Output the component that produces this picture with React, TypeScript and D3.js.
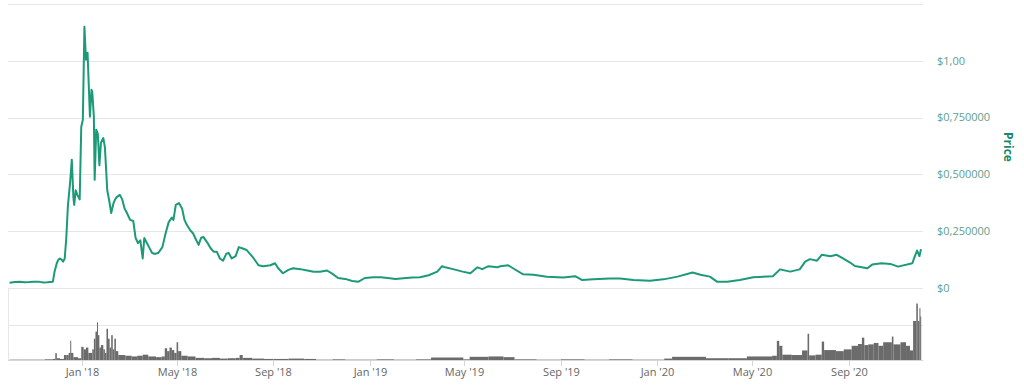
import * as d3 from "d3";

// price in USD
const priceSeries: [string, number][] = [
  ["2017-10-01", 0.023], ["2017-10-08", 0.026], ["2017-10-14", 0.027], ["2017-10-20", 0.025],
  ["2017-10-26", 0.026], ["2017-11-01", 0.028], ["2017-11-08", 0.027], ["2017-11-13", 0.024],
  ["2017-11-18", 0.025], ["2017-11-25", 0.028], ["2017-11-27", 0.07], ["2017-11-30", 0.11],
  ["2017-12-02", 0.125], ["2017-12-04", 0.13], ["2017-12-06", 0.125], ["2017-12-08", 0.116],
  ["2017-12-10", 0.13], ["2017-12-12", 0.22], ["2017-12-14", 0.36], ["2017-12-17", 0.47],
  ["2017-12-19", 0.565], ["2017-12-21", 0.4], ["2017-12-22", 0.366], ["2017-12-24", 0.43],
  ["2017-12-26", 0.41], ["2017-12-29", 0.39], ["2017-12-31", 0.71], ["2018-01-02", 0.74],
  ["2018-01-04", 1.15], ["2018-01-06", 1.005], ["2018-01-08", 1.035], ["2018-01-11", 0.754],
  ["2018-01-13", 0.873], ["2018-01-14", 0.86], ["2018-01-16", 0.754], ["2018-01-17", 0.476],
  ["2018-01-19", 0.697], ["2018-01-21", 0.68], ["2018-01-23", 0.54], ["2018-01-25", 0.64],
  ["2018-01-28", 0.66], ["2018-01-30", 0.62], ["2018-02-02", 0.43], ["2018-02-05", 0.374],
  ["2018-02-07", 0.33], ["2018-02-10", 0.374], ["2018-02-12", 0.39], ["2018-02-14", 0.4],
  ["2018-02-18", 0.41], ["2018-02-21", 0.39], ["2018-02-24", 0.35], ["2018-02-27", 0.33],
  ["2018-03-03", 0.3], ["2018-03-07", 0.295], ["2018-03-10", 0.22], ["2018-03-13", 0.198],
  ["2018-03-16", 0.21], ["2018-03-19", 0.13], ["2018-03-21", 0.22], ["2018-03-24", 0.2],
  ["2018-03-27", 0.18], ["2018-03-31", 0.154], ["2018-04-04", 0.15], ["2018-04-08", 0.155],
  ["2018-04-13", 0.18], ["2018-04-17", 0.24], ["2018-04-21", 0.29], ["2018-04-25", 0.31],
  ["2018-04-27", 0.3], ["2018-04-30", 0.366], ["2018-05-04", 0.374], ["2018-05-08", 0.35],
  ["2018-05-11", 0.3], ["2018-05-14", 0.278], ["2018-05-18", 0.256], ["2018-05-22", 0.24],
  ["2018-05-26", 0.21], ["2018-05-29", 0.19], ["2018-06-01", 0.22], ["2018-06-04", 0.225],
  ["2018-06-09", 0.2], ["2018-06-13", 0.176], ["2018-06-17", 0.16], ["2018-06-21", 0.16],
  ["2018-06-25", 0.13], ["2018-06-29", 0.12], ["2018-07-03", 0.15], ["2018-07-06", 0.155],
  ["2018-07-10", 0.13], ["2018-07-15", 0.14], ["2018-07-19", 0.18], ["2018-07-23", 0.175],
  ["2018-07-29", 0.167], ["2018-08-03", 0.147], ["2018-08-07", 0.13], ["2018-08-13", 0.1],
  ["2018-08-19", 0.096], ["2018-08-28", 0.1], ["2018-09-03", 0.109], ["2018-09-07", 0.087],
  ["2018-09-13", 0.065], ["2018-09-20", 0.08], ["2018-09-26", 0.087], ["2018-10-05", 0.083],
  ["2018-10-14", 0.077], ["2018-10-22", 0.072], ["2018-10-30", 0.072], ["2018-11-08", 0.077],
  ["2018-11-15", 0.062], ["2018-11-22", 0.044], ["2018-12-01", 0.04], ["2018-12-10", 0.031],
  ["2018-12-18", 0.028], ["2018-12-26", 0.044], ["2019-01-06", 0.047], ["2019-01-15", 0.047],
  ["2019-01-24", 0.044], ["2019-02-03", 0.04], ["2019-02-13", 0.043], ["2019-02-24", 0.046],
  ["2019-03-06", 0.047], ["2019-03-17", 0.056], ["2019-03-28", 0.072], ["2019-04-03", 0.096],
  ["2019-04-07", 0.091], ["2019-04-17", 0.083], ["2019-04-29", 0.072], ["2019-05-09", 0.065],
  ["2019-05-18", 0.091], ["2019-05-24", 0.083], ["2019-06-01", 0.096], ["2019-06-12", 0.091],
  ["2019-06-16", 0.096], ["2019-06-26", 0.1], ["2019-07-02", 0.087], ["2019-07-15", 0.06],
  ["2019-07-28", 0.058], ["2019-08-14", 0.05], ["2019-09-04", 0.046], ["2019-09-19", 0.052],
  ["2019-09-28", 0.035], ["2019-10-12", 0.038], ["2019-11-02", 0.042], ["2019-11-15", 0.042],
  ["2019-12-02", 0.035], ["2019-12-23", 0.032], ["2020-01-09", 0.038], ["2020-01-27", 0.05],
  ["2020-02-15", 0.068], ["2020-02-25", 0.058], ["2020-03-08", 0.05], ["2020-03-17", 0.028],
  ["2020-03-30", 0.028], ["2020-04-15", 0.035], ["2020-05-02", 0.047], ["2020-05-27", 0.052],
  ["2020-06-05", 0.082], ["2020-06-18", 0.072], ["2020-06-30", 0.082], ["2020-07-07", 0.116],
  ["2020-07-13", 0.127], ["2020-07-22", 0.12], ["2020-07-28", 0.146], ["2020-08-08", 0.14],
  ["2020-08-16", 0.146], ["2020-08-24", 0.13], ["2020-09-02", 0.112], ["2020-09-08", 0.097],
  ["2020-09-24", 0.087], ["2020-09-30", 0.103], ["2020-10-12", 0.109], ["2020-10-23", 0.106],
  ["2020-11-02", 0.094], ["2020-11-20", 0.109], ["2020-11-23", 0.138], ["2020-11-26", 0.165],
  ["2020-11-29", 0.14], ["2020-12-01", 0.171],
];

// volume (relative units, 1 = middle grid line), each bar runs to the next date
const volumeSeries: [string, number][] = [
  ["2017-10-01", 0.01], ["2017-10-15", 0.01], ["2017-11-01", 0.01], ["2017-11-15", 0.02],
  ["2017-11-25", 0.03], ["2017-11-28", 0.19], ["2017-11-30", 0.05], ["2017-12-04", 0.03],
  ["2017-12-09", 0.14], ["2017-12-12", 0.14], ["2017-12-15", 0.2], ["2017-12-17", 0.54],
  ["2017-12-18", 0.2], ["2017-12-21", 0.08], ["2017-12-27", 0.05], ["2017-12-31", 0.37],
  ["2018-01-03", 0.3], ["2018-01-06", 0.35], ["2018-01-09", 0.2], ["2018-01-14", 0.3],
  ["2018-01-16", 0.6], ["2018-01-18", 0.8], ["2018-01-20", 1.06], ["2018-01-21", 0.7],
  ["2018-01-23", 0.35], ["2018-01-25", 0.42], ["2018-01-28", 0.3], ["2018-01-30", 0.2],
  ["2018-02-01", 0.88], ["2018-02-03", 0.6], ["2018-02-05", 0.35], ["2018-02-07", 0.7],
  ["2018-02-09", 0.3], ["2018-02-11", 0.6], ["2018-02-13", 0.25], ["2018-02-16", 0.14],
  ["2018-02-25", 0.12], ["2018-03-05", 0.1], ["2018-03-12", 0.12], ["2018-03-19", 0.15],
  ["2018-03-26", 0.1], ["2018-04-05", 0.08], ["2018-04-12", 0.1], ["2018-04-16", 0.33],
  ["2018-04-19", 0.25], ["2018-04-22", 0.35], ["2018-04-25", 0.28], ["2018-04-28", 0.2],
  ["2018-05-01", 0.5], ["2018-05-03", 0.25], ["2018-05-07", 0.12], ["2018-05-15", 0.1],
  ["2018-05-25", 0.06], ["2018-06-05", 0.05], ["2018-06-15", 0.06], ["2018-06-25", 0.04],
  ["2018-07-05", 0.05], ["2018-07-15", 0.06], ["2018-07-20", 0.14], ["2018-07-24", 0.06],
  ["2018-08-05", 0.04], ["2018-08-20", 0.03], ["2018-09-01", 0.03], ["2018-09-20", 0.04],
  ["2018-10-10", 0.03], ["2018-10-25", 0.01], ["2018-11-15", 0.02], ["2018-12-01", 0.01],
  ["2018-12-20", 0.01], ["2019-01-10", 0.02], ["2019-02-01", 0.01], ["2019-03-01", 0.02],
  ["2019-03-20", 0.07], ["2019-04-30", 0.02], ["2019-05-08", 0.09], ["2019-06-01", 0.1],
  ["2019-06-20", 0.08], ["2019-07-04", 0.02], ["2019-08-01", 0.01], ["2019-09-01", 0.02],
  ["2019-10-01", 0.01], ["2019-11-01", 0.02], ["2019-12-01", 0.01], ["2020-01-10", 0.04],
  ["2020-01-20", 0.09], ["2020-03-03", 0.05], ["2020-04-01", 0.05], ["2020-04-24", 0.1],
  ["2020-05-26", 0.12], ["2020-06-01", 0.54], ["2020-06-04", 0.4], ["2020-06-08", 0.15],
  ["2020-06-20", 0.14], ["2020-07-03", 0.27], ["2020-07-10", 0.74], ["2020-07-12", 0.13],
  ["2020-07-20", 0.15], ["2020-07-28", 0.52], ["2020-07-31", 0.28], ["2020-08-15", 0.25],
  ["2020-08-25", 0.3], ["2020-09-04", 0.4], ["2020-09-12", 0.45], ["2020-09-17", 0.63],
  ["2020-09-20", 0.42], ["2020-09-25", 0.44], ["2020-10-02", 0.48], ["2020-10-08", 0.4],
  ["2020-10-14", 0.5], ["2020-10-25", 0.66], ["2020-10-27", 0.44], ["2020-11-05", 0.5],
  ["2020-11-12", 0.4], ["2020-11-17", 0.27], ["2020-11-21", 1.1], ["2020-11-25", 1.59],
  ["2020-11-27", 1.1], ["2020-11-29", 1.46], ["2020-11-30", 1.23],
];

const domainStart = "2017-09-29";
const domainEnd = "2020-12-01";

const priceGrid = [0, 0.25, 0.5, 0.75, 1, 1.25];
const priceTicks = [0, 0.25, 0.5, 0.75, 1];
const priceTickLabels = ["$0", "$0,250000", "$0,500000", "$0,750000", "$1,00"];
const volumeGrid = [1];
const monthTicks = [
  "2018-01-01", "2018-05-01", "2018-09-01",
  "2019-01-01", "2019-05-01", "2019-09-01",
  "2020-01-01", "2020-05-01", "2020-09-01",
];

const GREEN = "#1c9a78";
const GRID = "#e6e6e6";
const FONT = "'Open Sans', 'DejaVu Sans', sans-serif";

const parse = d3.utcParse("%Y-%m-%d");
const fmtMonth = d3.utcFormat("%b '%y");

export default function App() {
  const W = 1024;
  const H = 392;
  const plotLeft = 8;
  const plotRight = 923;

  const x = d3
    .scaleUtc()
    .domain([parse(domainStart)!, parse(domainEnd)!])
    .range([plotLeft, 921]);

  const y = d3.scaleLinear().domain([0, 1.25]).range([288, 4]);
  const vy = d3.scaleLinear().domain([0, 2]).range([360, 289]);

  const line = d3
    .line<[string, number]>()
    .x((d) => x(parse(d[0])!))
    .y((d) => y(d[1]));

  const bars = volumeSeries.map((d, i) => {
    const x0 = x(parse(d[0])!);
    const next = i < volumeSeries.length - 1 ? volumeSeries[i + 1][0] : domainEnd;
    const x1 = x(parse(next)!);
    return { x: x0, w: Math.max(1, x1 - x0), top: vy(d[1]) };
  });

  return (
    <svg
      width={W}
      height={H}
      style={{ position: "absolute", left: 0, top: 0, background: "#fff" }}
      fontFamily={FONT}
    >
      {/* price grid */}
      {priceGrid.map((v) => (
        <line
          key={"pg" + v}
          x1={plotLeft}
          x2={plotRight}
          y1={Math.round(y(v)) + 0.5}
          y2={Math.round(y(v)) + 0.5}
          stroke={GRID}
        />
      ))}
      {priceTicks.map((v, i) => (
        <text
          key={"pt" + v}
          x={937}
          y={y(v)}
          dy="0.35em"
          fontSize={11}
          fill="#5f9e8c"
        >
          {priceTickLabels[i]}
        </text>
      ))}
      <text
        transform="translate(1004,147) rotate(90)"
        textAnchor="middle"
        fontSize={12}
        fontWeight="bold"
        fill="#17896d"
      >
        Price
      </text>

      {/* volume pane */}
      {volumeGrid.map((v) => (
        <line
          key={"vg" + v}
          x1={plotLeft}
          x2={plotRight}
          y1={Math.round(vy(v)) + 0.5}
          y2={Math.round(vy(v)) + 0.5}
          stroke={GRID}
        />
      ))}
      <line x1={plotLeft + 0.5} x2={plotLeft + 0.5} y1={289} y2={360} stroke={GRID} />
      {bars.map((b, i) => (
        <rect key={"v" + i} x={b.x} y={b.top} width={b.w} height={360 - b.top} fill="#6b6b6b" />
      ))}
      <line x1={plotLeft} x2={plotRight} y1={360.5} y2={360.5} stroke="#d6d6d6" />
      {monthTicks.map((t) => {
        const tx = Math.round(x(parse(t)!)) + 0.5;
        return (
          <g key={t}>
            <line x1={tx} x2={tx} y1={360} y2={366} stroke="#d6d6d6" />
            <text x={tx} y={376} textAnchor="middle" fontSize={11} fill="#666">
              {fmtMonth(parse(t)!)}
            </text>
          </g>
        );
      })}

      {/* price line */}
      <path
        d={line(priceSeries) ?? ""}
        fill="none"
        stroke={GREEN}
        strokeWidth={2}
        strokeLinejoin="round"
      />
    </svg>
  );
}
